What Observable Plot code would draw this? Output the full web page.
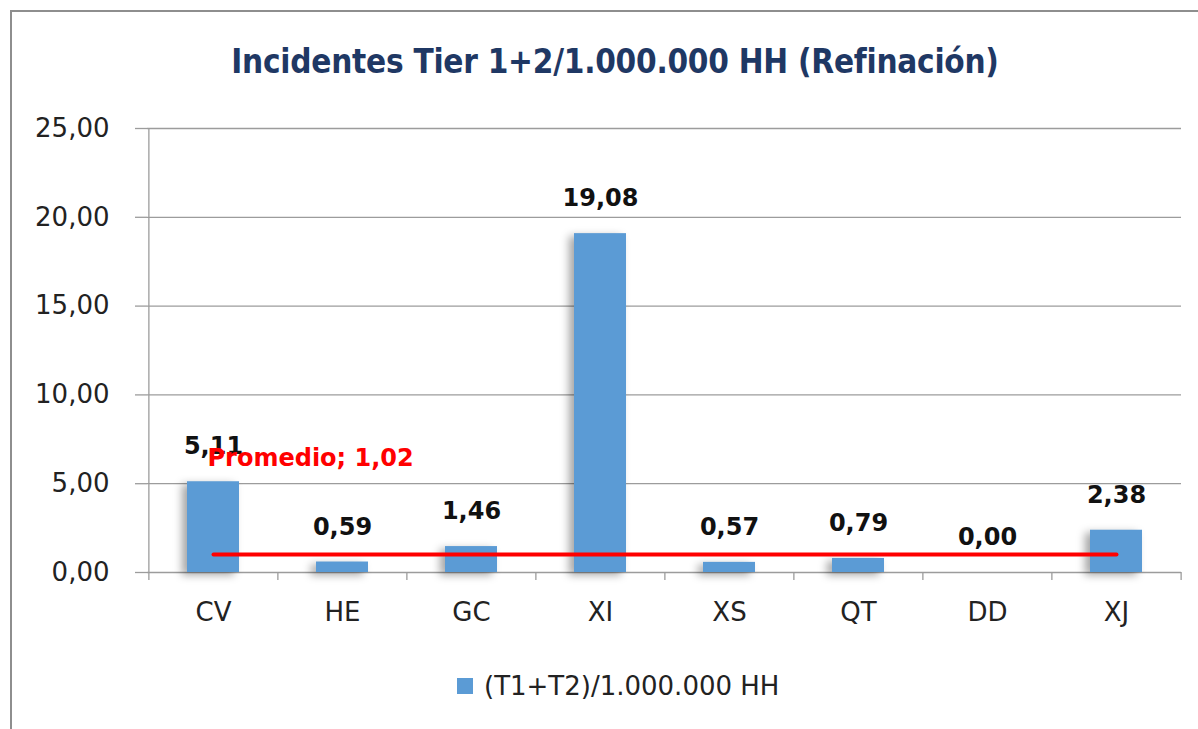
<!DOCTYPE html>
<html>
<head>
<meta charset="utf-8">
<script src="https://cdn.jsdelivr.net/npm/d3@7"></script>
<script src="https://cdn.jsdelivr.net/npm/@observablehq/plot@0.6"></script>
<style>
  html, body { margin: 0; padding: 0; background: #fff; width: 1198px; height: 729px; overflow: hidden; position: relative; }
  #frame { position: absolute; left: 10px; top: 10px; width: 1400px; height: 900px; border: 2px solid #8e8e8e; box-sizing: border-box; }
  #title { position: absolute; left: 0; top: 42px; width: 1230px; text-align: center; font-family: "DejaVu Sans Condensed", "DejaVu Sans", sans-serif; font-stretch: condensed; font-weight: bold; font-size: 33px; letter-spacing: -0.25px; color: #1F3864; }
  #chart { position: absolute; left: 0; top: 100px; }
  #legend { position: absolute; left: 457px; top: 670px; height: 32px; font-family: "DejaVu Sans", sans-serif; font-size: 26px; color: #222; display: flex; align-items: center; }
  #legend .sw { width: 16px; height: 16px; background: #5B9BD5; margin-right: 11px; }
  g[aria-label="bar"] { filter: drop-shadow(-5px 3px 4px rgba(0,0,0,0.35)); }
</style>
</head>
<body>
<div id="frame"></div>
<div id="title">Incidentes Tier 1+2/1.000.000 HH (Refinación)</div>
<div id="chart"></div>
<div id="legend"><div class="sw"></div><span id="legendText"></span></div>
<script>
const categories = ["CV", "HE", "GC", "XI", "XS", "QT", "DD", "XJ"];
const values = [5.11, 0.59, 1.46, 19.08, 0.57, 0.79, 0.00, 2.38];
const average = [1.02];
const averageLabel = "Promedio; 1,02";
const yTicks = [0, 5, 10, 15, 20, 25];
const seriesName = "(T1+T2)/1.000.000 HH";

document.getElementById("legendText").textContent = seriesName;

const data = categories.map((c, i) => ({cat: c, v: values[i]}));
const fmt = d => d3.format(".2f")(d).replace(".", ",");

const W = 1198, H = 540, ML = 147, MR = 17, MT = 28, MB = 68;
const step = (W - ML - MR) / categories.length;
const grid = "#9c9c9c";

const chart = Plot.plot({
  width: W, height: H,
  marginLeft: ML, marginRight: MR, marginTop: MT, marginBottom: MB,
  style: {fontFamily: "DejaVu Sans, sans-serif", fontSize: "26px", color: "#222", background: "transparent", overflow: "visible"},
  x: {type: "band", domain: categories, paddingInner: 0.6, paddingOuter: 0.3, label: null},
  y: {domain: [0, 25], label: null},
  marks: [
    Plot.gridY(yTicks, {stroke: grid, strokeOpacity: 1, strokeWidth: 1.3}),
    Plot.axisY(yTicks, {tickSize: 12, tickPadding: 26, tickFormat: fmt, stroke: grid, strokeWidth: 1.3, fontSize: 26, fill: "#222"}),
    Plot.ruleX([categories[0]], {dx: -step / 2, stroke: grid, strokeWidth: 1.3}),
    Plot.axisX(categories, {tickSize: 0, tickPadding: 30, fontSize: 26, fill: "#222"}),
    Plot.axisX(categories, {tickSize: 8, tickFormat: () => "", dx: -step / 2, stroke: grid, strokeWidth: 1.3}),
    Plot.axisX([categories[categories.length - 1]], {tickSize: 8, tickFormat: () => "", dx: step / 2, stroke: grid, strokeWidth: 1.3}),
    Plot.barY(data, {x: "cat", y: "v", fill: "#5B9BD5"}),
    Plot.lineY(categories.map(c => ({cat: c, v: average[0]})), {x: "cat", y: "v", stroke: "#FF0000", strokeWidth: 4}),
    Plot.text(data, {x: "cat", y: "v", text: d => fmt(d.v), dy: -35, fontSize: 24, fontWeight: "bold", fill: "#111"}),
    Plot.text(average, {x: () => categories[0], y: d => d, text: () => averageLabel, textAnchor: "start", dx: -6, dy: -96, fontSize: 24, fontWeight: "bold", fill: "#FF0000"})
  ]
});
document.getElementById("chart").appendChild(chart);
</script>
</body>
</html>
